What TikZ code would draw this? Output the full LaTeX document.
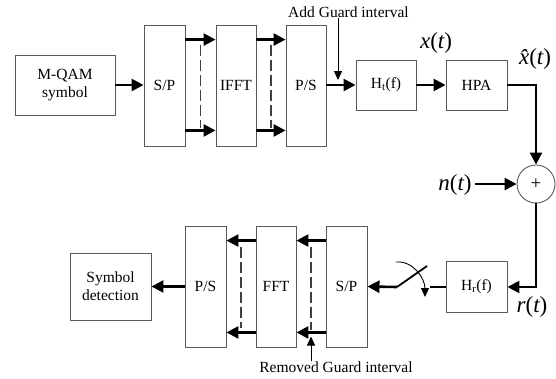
\documentclass[tikz,border=0pt]{standalone}
\usepackage{fontspec}
\setmainfont{Liberation Serif}
\usetikzlibrary{arrows.meta,calc}
\begin{document}
\begin{tikzpicture}[x=1pt,y=-1pt,
  blk/.style={draw=black!65,line width=0.9pt,inner sep=0pt,align=center,font=\fontsize{15.5}{18}\selectfont},
  arr/.style={line width=2.6pt,-{Triangle[length=12pt,width=12pt]}},
  plain/.style={line width=2.6pt},
  thinarr/.style={line width=0.9pt,-{Triangle[length=9pt,width=8pt]}},
  dsh/.style={draw=black!75,line width=1.3pt,dash pattern=on 11pt off 4pt},
  lbl/.style={font=\fontsize{15.5}{18}\selectfont,inner sep=0pt},
  sig/.style={font=\fontsize{23}{26}\selectfont\itshape,inner sep=0pt}]
\useasboundingbox (0,0) rectangle (556,378);
% top row
\node[blk,minimum width=100pt,minimum height=60pt] (mqam) at (65,85) {M-QAM\\symbol};
\node[blk,minimum width=41pt,minimum height=121pt] (sp1) at (164.5,85.5) {S/P};
\node[blk,minimum width=40pt,minimum height=121pt] (ifft) at (236,85.5) {IFFT};
\node[blk,minimum width=40pt,minimum height=121pt] (ps1) at (306,85.5) {P/S};
\node[blk,minimum width=60pt,minimum height=50pt] (ht) at (386,85) {H\textsubscript{t}(f)};
\node[blk,minimum width=61pt,minimum height=50pt] (hpa) at (476.5,85) {HPA};
\node[draw=black!65,line width=0.9pt,circle,minimum size=38pt,inner sep=0pt,font=\fontsize{19}{20}\selectfont] (sum) at (536,184) {+};
% bottom row
\node[blk,minimum width=61pt,minimum height=51pt] (hr) at (476.5,287) {H\textsubscript{r}(f)};
\node[blk,minimum width=41pt,minimum height=121pt] (sp2) at (346.5,286.5) {S/P};
\node[blk,minimum width=40pt,minimum height=121pt] (fft) at (276,286.5) {FFT};
\node[blk,minimum width=41pt,minimum height=121pt] (ps2) at (205.5,286.5) {P/S};
\node[blk,minimum width=81pt,minimum height=67pt] (det) at (110.5,286.5) {Symbol\\detection};
% labels
\node[lbl] (addg) at (348.5,12) {Add Guard interval};
\node[lbl] (remg) at (336,367) {Removed Guard interval};
\node[sig] (xt) at (436,43) {x\upshape(\itshape t\upshape)};
\node[sig] (xh) at (535,59) {\^{x}\upshape(\itshape t\upshape)};
\node[sig] (nt) at (455,185) {n\upshape(\itshape t\upshape)};
\node[sig] (rt) at (532,307) {r\upshape(\itshape t\upshape)};
% top connectors
\draw[arr] (mqam.east) -- (mqam.east -| sp1.west);
\draw[arr] ([yshift=-15pt]sp1.north east) -- ([yshift=-15pt]ifft.north west);
\draw[arr] ([yshift=16pt]sp1.south east) -- ([yshift=16pt]ifft.south west);
\draw[arr] ([yshift=-15pt]ifft.north east) -- ([yshift=-15pt]ps1.north west);
\draw[arr] ([yshift=16pt]ifft.south east) -- ([yshift=16pt]ps1.south west);
\draw[dsh] ($(sp1.east)!0.5!(ifft.west)+(0,-41)$) -- ($(sp1.east)!0.5!(ifft.west)+(0,42)$);
\draw[dsh] ($(ifft.east)!0.5!(ps1.west)+(0,-41)$) -- ($(ifft.east)!0.5!(ps1.west)+(0,42)$);
\draw[arr] (ps1.east |- ht.west) -- (ht.west);
\coordinate (agtip) at (338,80);
\draw[thinarr] (addg.south -| agtip) -- (agtip);
\draw[arr] (ht.east) -- (hpa.west);
\draw[arr] (hpa.east) -| (sum.north);
\draw[arr] ([xshift=3pt]nt.east |- sum.west) -- (sum.west);
\draw[arr] (sum.south) |- (hr.east);
% switch
\coordinate (swr) at (430,287);
\coordinate (swl) at (397,287);
\coordinate (swtop) at (427,266);
\coordinate (arcs) at (396,262);
\coordinate (arce) at (425,297);
\draw[plain] (hr.west) -- (swr);
\draw[line width=1.8pt] (swl) -- (swtop);
\draw[arr] (swl) -- (sp2.east);
\draw[thinarr] (arcs) to[out=5,in=90] (arce);
% bottom connectors
\draw[arr] ([yshift=-15pt]sp2.north west) -- ([yshift=-15pt]fft.north east);
\draw[arr] ([yshift=15pt]sp2.south west) -- ([yshift=15pt]fft.south east);
\draw[arr] ([yshift=-15pt]fft.north west) -- ([yshift=-15pt]ps2.north east);
\draw[arr] ([yshift=15pt]fft.south west) -- ([yshift=15pt]ps2.south east);
\draw[dsh] ($(fft.east)!0.5!(sp2.west)+(0,-40)$) -- ($(fft.east)!0.5!(sp2.west)+(0,43)$);
\draw[dsh] ($(ps2.east)!0.5!(fft.west)+(0,-40)$) -- ($(ps2.east)!0.5!(fft.west)+(0,41)$);
\coordinate (rgtip) at ($(fft.east)!0.5!(sp2.west)+(0,50)$);
\draw[thinarr] (remg.north -| rgtip) -- (rgtip);
\draw[arr] (ps2.west) -- (det.east);
\end{tikzpicture}
\end{document}
